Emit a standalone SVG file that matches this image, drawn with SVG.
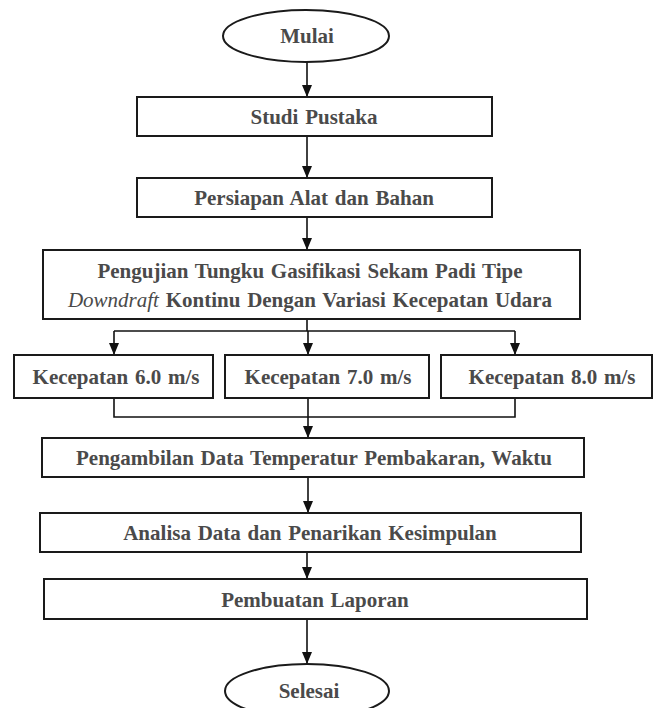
<svg xmlns="http://www.w3.org/2000/svg" width="656" height="708" viewBox="0 0 656 708">
<style>
.box{fill:#fff;stroke:#1a1a1a;stroke-width:2}
.t{font-family:"Liberation Serif","Times New Roman",serif;font-weight:bold;font-size:21px;fill:#4a4a4a;text-anchor:middle;word-spacing:1.5px}
.it{font-style:italic;font-weight:normal}
.ln{fill:none;stroke:#111;stroke-width:1.6}
</style>
<defs>
<marker id="ah" viewBox="0 0 12 10" refX="12" refY="5" markerWidth="12" markerHeight="10" markerUnits="userSpaceOnUse" orient="auto">
<path d="M0,0 L12,5 L0,10 z" fill="#111"/>
</marker>
</defs>
<rect width="656" height="708" fill="#fff"/>
<g id="connectors">
<line class="ln" x1="307" y1="62" x2="307" y2="97" marker-end="url(#ah)"/>
<line class="ln" x1="307" y1="136" x2="307" y2="178" marker-end="url(#ah)"/>
<line class="ln" x1="307" y1="217" x2="307" y2="250" marker-end="url(#ah)"/>
<line class="ln" x1="307" y1="319" x2="307" y2="331"/>
<polyline class="ln" points="114,331 515,331"/>
<line class="ln" x1="114" y1="331" x2="114" y2="355" marker-end="url(#ah)"/>
<line class="ln" x1="308" y1="331" x2="308" y2="355" marker-end="url(#ah)"/>
<line class="ln" x1="515" y1="331" x2="515" y2="355" marker-end="url(#ah)"/>
<polyline class="ln" points="114,398 114,417 515,417 515,398"/>
<line class="ln" x1="308" y1="398" x2="308" y2="438" marker-end="url(#ah)"/>
<line class="ln" x1="308" y1="477" x2="308" y2="513" marker-end="url(#ah)"/>
<line class="ln" x1="307" y1="552" x2="307" y2="579" marker-end="url(#ah)"/>
<line class="ln" x1="307" y1="619" x2="307" y2="664" marker-end="url(#ah)"/>
</g>
<g id="mulai">
<ellipse class="box" cx="306" cy="36" rx="83" ry="26"/>
<text class="t" x="307" y="43">Mulai</text>
</g>
<g id="studi">
<rect class="box" x="137" y="97" width="355" height="39"/>
<text class="t" x="314" y="124">Studi Pustaka</text>
</g>
<g id="persiapan">
<rect class="box" x="137" y="178" width="355" height="39"/>
<text class="t" x="314" y="205">Persiapan Alat dan Bahan</text>
</g>
<g id="pengujian">
<rect class="box" x="43" y="250" width="537" height="69"/>
<text class="t" x="310" y="278">Pengujian Tungku Gasifikasi Sekam Padi Tipe</text>
<text class="t" x="310" y="307"><tspan class="it">Downdraft</tspan> Kontinu Dengan Variasi Kecepatan Udara</text>
</g>
<g id="k6">
<rect class="box" x="14" y="355" width="199" height="43"/>
<text class="t" x="116" y="384">Kecepatan 6.0 m/s</text>
</g>
<g id="k7">
<rect class="box" x="225" y="355" width="204" height="43"/>
<text class="t" x="328" y="384">Kecepatan 7.0 m/s</text>
</g>
<g id="k8">
<rect class="box" x="441" y="355" width="211" height="43"/>
<text class="t" x="552" y="384">Kecepatan 8.0 m/s</text>
</g>
<g id="pengambilan">
<rect class="box" x="42" y="438" width="542" height="39"/>
<text class="t" x="314" y="465">Pengambilan Data Temperatur Pembakaran, Waktu</text>
</g>
<g id="analisa">
<rect class="box" x="40" y="513" width="541" height="39"/>
<text class="t" x="310" y="540">Analisa Data dan Penarikan Kesimpulan</text>
</g>
<g id="pembuatan">
<rect class="box" x="44" y="579" width="543" height="40"/>
<text class="t" x="315" y="607">Pembuatan Laporan</text>
</g>
<g id="selesai">
<ellipse class="box" cx="307" cy="691" rx="82" ry="27"/>
<text class="t" x="309" y="698">Selesai</text>
</g>
</svg>
